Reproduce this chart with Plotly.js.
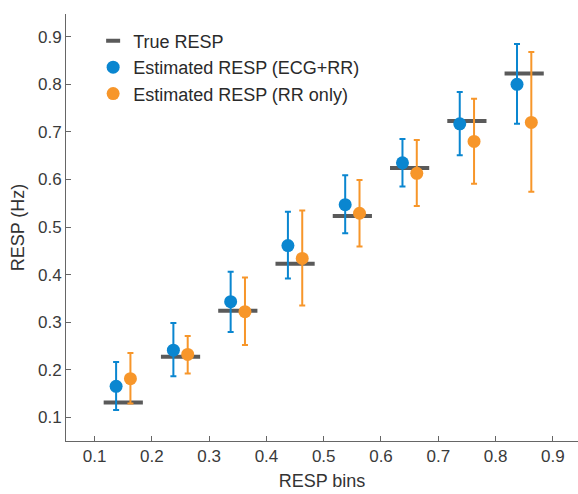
<!DOCTYPE html>
<html>
<head>
<meta charset="utf-8">
<script src="https://cdn.plot.ly/plotly-3.0.1.min.js"></script>
<style>html,body{margin:0;padding:0;background:#fff;}#chart{width:578px;height:494px;}</style>
</head>
<body>
<div id="chart"></div>
<script>
const bins = [0.15, 0.25, 0.35, 0.45, 0.55, 0.65, 0.75, 0.85];
const trueResp = [0.131, 0.227, 0.324, 0.423, 0.523, 0.624, 0.723, 0.823];
const ecgMean = [0.165, 0.241, 0.343, 0.461, 0.547, 0.635, 0.717, 0.800];
const ecgUpper = [0.216, 0.298, 0.406, 0.532, 0.609, 0.685, 0.784, 0.885];
const ecgLower = [0.115, 0.186, 0.279, 0.392, 0.487, 0.585, 0.651, 0.717];
const rrMean = [0.181, 0.232, 0.322, 0.434, 0.529, 0.613, 0.680, 0.720];
const rrUpper = [0.235, 0.271, 0.394, 0.535, 0.599, 0.683, 0.770, 0.868];
const rrLower = [0.129, 0.192, 0.252, 0.335, 0.459, 0.544, 0.591, 0.574];
const xTicks = [0.1, 0.2, 0.3, 0.4, 0.5, 0.6, 0.7, 0.8, 0.9];
const yTicks = [0.1, 0.2, 0.3, 0.4, 0.5, 0.6, 0.7, 0.8, 0.9];

const off = 0.0125;
const blue = '#0A86D0';
const orange = '#F7962A';
const gray = '#5a5a5a';
const FONT = 'Liberation Sans, Arial, sans-serif';

const traces = [
  {
    type: 'scatter', mode: 'markers', name: 'True RESP', showlegend: false,
    x: bins, y: trueResp,
    marker: {symbol: 'line-ew', size: 28, color: gray, line: {width: 4, color: gray}}
  },
  {
    // legend-only entry so the legend dash is short, as in the original
    type: 'scatter', mode: 'markers', name: 'True RESP', legendgroup: 'a',
    x: [null], y: [null],
    marker: {symbol: 'line-ew', size: 10, color: gray, line: {width: 4, color: gray}}
  },
  {
    type: 'scatter', mode: 'markers', name: 'Estimated RESP (ECG+RR)', legendgroup: 'b',
    x: bins.map(b => b - off), y: ecgMean,
    marker: {symbol: 'circle', size: 13, color: blue},
    error_y: {type: 'data', symmetric: false,
      array: ecgUpper.map((u, i) => u - ecgMean[i]),
      arrayminus: ecgMean.map((m, i) => m - ecgLower[i]),
      color: blue, thickness: 2, width: 3}
  },
  {
    type: 'scatter', mode: 'markers', name: 'Estimated RESP (RR only)', legendgroup: 'c',
    x: bins.map(b => b + off), y: rrMean,
    marker: {symbol: 'circle', size: 13, color: orange},
    error_y: {type: 'data', symmetric: false,
      array: rrUpper.map((u, i) => u - rrMean[i]),
      arrayminus: rrMean.map((m, i) => m - rrLower[i]),
      color: orange, thickness: 2, width: 3}
  }
];

const axisCommon = {
  showgrid: false, zeroline: false, showline: true,
  linecolor: '#666', linewidth: 1,
  ticks: 'inside', ticklen: 5, tickcolor: '#666', tickwidth: 1,
  tickfont: {family: FONT, size: 17, color: '#3a3a3a'},
  mirror: false
};

const layout = {
  width: 578, height: 494,
  margin: {l: 66, r: 0, t: 14, b: 53},
  paper_bgcolor: '#fff', plot_bgcolor: '#fff',
  showlegend: true,
  legend: {
    x: 0.053, y: 0.98, xanchor: 'left', yanchor: 'top',
    bgcolor: 'rgba(0,0,0,0)',
    font: {family: FONT, size: 18, color: '#2a2a2a'},
    itemwidth: 30, tracegroupgap: 0
  },
  xaxis: Object.assign({}, axisCommon, {
    range: [0.05, 0.944], tickvals: xTicks, ticktext: xTicks.map(v => v.toFixed(1)),
    title: {text: 'RESP bins', font: {family: FONT, size: 18, color: '#333'}, standoff: 8}
  }),
  yaxis: Object.assign({}, axisCommon, {
    range: [0.05, 0.948], tickvals: yTicks, ticktext: yTicks.map(v => v.toFixed(1)),
    title: {text: 'RESP (Hz)', font: {family: FONT, size: 18, color: '#333'}, standoff: 8}
  })
};

Plotly.newPlot('chart', traces, layout, {displayModeBar: false, staticPlot: true});
</script>
</body>
</html>
